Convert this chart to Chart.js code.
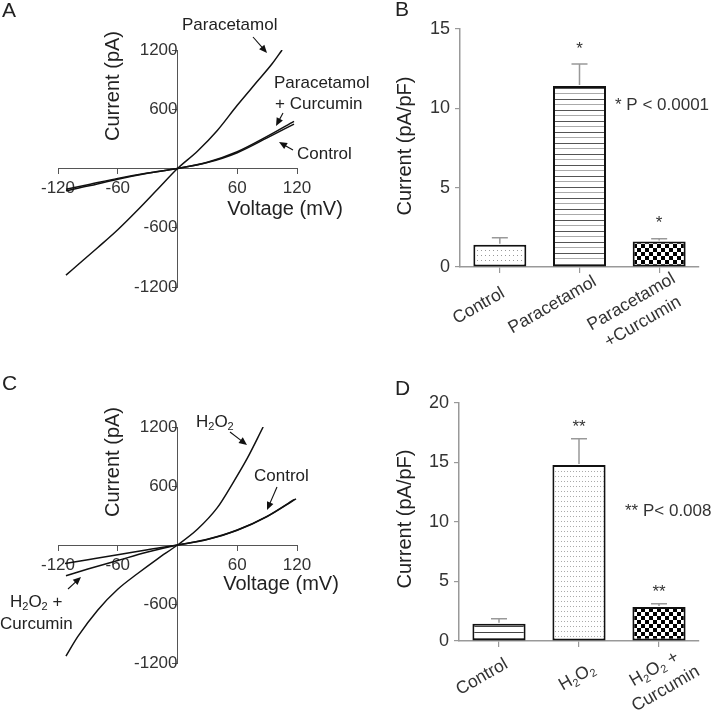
<!DOCTYPE html>
<html><head><meta charset="utf-8">
<script src="https://cdn.jsdelivr.net/npm/chart.js@4.4.1/dist/chart.umd.min.js"></script>
<style>
html,body{margin:0;padding:0;background:#fff;}
#wrap{position:relative;width:714px;height:712px;overflow:hidden;}
canvas{position:absolute;}
</style></head><body>
<div id="wrap">
<canvas id="cA" width="390" height="356" style="left:0;top:0"></canvas>
<canvas id="cC" width="357" height="356" style="left:0;top:356px"></canvas>
<canvas id="cB" width="357" height="356" style="left:357px;top:0"></canvas>
<canvas id="cD" width="357" height="356" style="left:357px;top:356px"></canvas>
</div>
<script>
// ---------- DATA ----------
// Panel A: I-V curves (voltage in mV, current in pA)
const voltageA_paracetamol = [-112,-100,-80,-60,-40,-20,0,20,40,60,80,95,105];
const currentA_paracetamol = [-1080,-975,-800,-620,-420,-210,0,175,385,640,880,1060,1200];
const voltageA_control = [-112,-90,-60,-30,0,30,60,90,117];
const currentA_control = [-210,-165,-100,-45,0,60,160,310,450];
const voltageA_curcumin = [-112,-90,-60,-30,0,30,60,90,117];
const currentA_curcumin = [-225,-178,-108,-48,0,64,170,325,478];
// Panel C: I-V curves
const voltageC_h2o2 = [-112,-100,-80,-60,-40,-20,0,20,40,55,70,86];
const currentC_h2o2 = [-1130,-930,-660,-450,-290,-140,0,160,380,620,880,1200];
const voltageC_control = [-113,-90,-60,-30,0,30,60,90,119];
const currentC_control = [-188,-150,-100,-48,0,55,150,290,470];
const voltageC_curcumin = [-112,-90,-60,-30,0,30,60,90,117];
const currentC_curcumin = [-313,-245,-158,-72,0,58,152,292,462];
// Panel B: bars (pA/pF)
const categoriesB = ['Control','Paracetamol',['Paracetamol','+Curcumin']];
const meansB = [1.4, 11.4, 1.6];
const semB = [0.45, 1.4, 0.18];
const starsB = ['', '*', '*'];
// Panel D: bars (pA/pF)
const categoriesD = ['Control','H\u2082O\u2082',['H\u2082O\u2082 +','Curcumin']];
const meansD = [1.45, 14.8, 2.85];
const semD = [0.42, 2.2, 0.28];
const starsD = ['', '**', '**'];
// tick labels
const ivVoltageTicks = [-120,-60,60,120];
const ivCurrentTicks = [-1200,-600,600,1200];

const FAM = "'Liberation Sans', Arial, Helvetica, sans-serif";

// ---------- text helpers ----------
function segs(s){
  const out=[];
  for (const ch of s){
    const c = ch.charCodeAt(0), sub = c>=0x2080 && c<=0x2089;
    const t = sub ? String(c-0x2080) : ch;
    if (out.length && out[out.length-1][1]===sub) out[out.length-1][0]+=t; else out.push([t,sub]);
  }
  return out;
}
function fontFor(size, sub){ return (sub ? Math.round(size*0.65) : size)+'px '+FAM; }
function richWidth(ctx, parts, size){
  let w=0; for (const [t,sub] of parts){ ctx.font=fontFor(size,sub); w+=ctx.measureText(t).width; } return w;
}
function txt(ctx, s, x, y, o={}) {
  const {size=17, align='left', rot=0, color='#222'} = o;
  const parts = segs(s);
  ctx.save(); ctx.translate(x,y); ctx.rotate(rot);
  ctx.fillStyle=color; ctx.textAlign='left'; ctx.textBaseline='middle';
  const w = richWidth(ctx, parts, size);
  let cx = align==='center' ? -w/2 : (align==='right' ? -w : 0);
  for (const [t,sub] of parts){
    ctx.font=fontFor(size,sub);
    ctx.fillText(t, cx, sub ? size*0.3 : 0);
    cx += ctx.measureText(t).width;
  }
  ctx.restore();
}
function arrow(ctx,x1,y1,x2,y2){
  const a = Math.atan2(y2-y1,x2-x1), L=8, W=3.5;
  ctx.save(); ctx.strokeStyle='#111'; ctx.fillStyle='#111'; ctx.lineWidth=1.1;
  ctx.beginPath(); ctx.moveTo(x1,y1); ctx.lineTo(x2-Math.cos(a)*L*0.8,y2-Math.sin(a)*L*0.8); ctx.stroke();
  ctx.beginPath(); ctx.moveTo(x2,y2);
  ctx.lineTo(x2-Math.cos(a)*L+Math.sin(a)*W, y2-Math.sin(a)*L-Math.cos(a)*W);
  ctx.lineTo(x2-Math.cos(a)*L-Math.sin(a)*W, y2-Math.sin(a)*L+Math.cos(a)*W);
  ctx.closePath(); ctx.fill(); ctx.restore();
}
function pts(xs, ys){ return xs.map((x,i)=>({x, y: ys[i]})); }

// ---------- I-V chart options ----------
function ivOptions(padTop, padBottom, padRight){
  const tickCol = c => (c.tick && c.tick.value === 0) ? 'rgba(0,0,0,0)' : '#555';
  return {
    responsive:false, animation:false, events:[],
    layout:{padding:{left:58,right:padRight,top:padTop,bottom:padBottom}},
    plugins:{legend:{display:false},tooltip:{enabled:false}},
    elements:{point:{radius:0}, line:{borderWidth:1.5, borderColor:'#111', cubicInterpolationMode:'monotone', fill:false}},
    scales:{
      x:{type:'linear', min:-120, max:120, position:{y:0},
        afterBuildTicks: s => { s.ticks = [-120,-60,0,60,120].map(v=>({value:v})); },
        ticks:{font:{family:FAM,size:17}, color:'#333', padding:5, maxRotation:0, autoSkip:false,
          callback: v => ivVoltageTicks.includes(v) ? String(v) : ''},
        grid:{drawOnChartArea:false, drawTicks:true, tickLength:5, tickColor:tickCol, tickWidth:1},
        border:{display:true, color:'#555', width:1}},
      y:{type:'linear', min:-1200, max:1200, position:{x:0},
        afterBuildTicks: s => { s.ticks = [-1200,-600,0,600,1200].map(v=>({value:v})); },
        ticks:{font:{family:FAM,size:17}, color:'#333', padding:3, autoSkip:false,
          callback: v => ivCurrentTicks.includes(v) ? String(v) : ''},
        grid:{drawOnChartArea:false, drawTicks:true, tickLength:5, tickColor:tickCol, tickWidth:1},
        border:{display:true, color:'#555', width:1}}
    }
  };
}

// ---------- Panel A ----------
new Chart(document.getElementById('cA'), {
  type:'line',
  data:{datasets:[
    {data:pts(voltageA_paracetamol,currentA_paracetamol)},
    {data:pts(voltageA_control,currentA_control)},
    {data:pts(voltageA_curcumin,currentA_curcumin)}
  ]},
  options: ivOptions(50, 69, 93),
  plugins:[{id:'annA', afterDraw(chart){
    const ctx = chart.ctx;
    txt(ctx,'A',2,11,{size:21});
    txt(ctx,'Current (pA)',113,86,{size:20,align:'center',rot:-Math.PI/2});
    txt(ctx,'Voltage (mV)',285,209,{size:20,align:'center'});
    txt(ctx,'Paracetamol',182,25,{size:17});
    arrow(ctx,253,37,267,53);
    txt(ctx,'Paracetamol',274,83,{size:17});
    txt(ctx,'+ Curcumin',275,104,{size:17});
    arrow(ctx,283,113,276,126);
    txt(ctx,'Control',297,154,{size:17});
    arrow(ctx,293,150,279,142);
  }}]
});

// ---------- Panel C ----------
new Chart(document.getElementById('cC'), {
  type:'line',
  data:{datasets:[
    {data:pts(voltageC_h2o2,currentC_h2o2)},
    {data:pts(voltageC_control,currentC_control)},
    {data:pts(voltageC_curcumin,currentC_curcumin)}
  ]},
  options: ivOptions(71, 49, 60),
  plugins:[{id:'annC', afterDraw(chart){
    const ctx = chart.ctx;
    txt(ctx,'C',2,28,{size:21});
    txt(ctx,'Current (pA)',113,106,{size:20,align:'center',rot:-Math.PI/2});
    txt(ctx,'Voltage (mV)',281,228,{size:20,align:'center'});
    txt(ctx,'H\u2082O\u2082',196,66,{size:17});
    arrow(ctx,230,76,247,89);
    txt(ctx,'Control',254,120,{size:17});
    arrow(ctx,277,131,267,154);
    txt(ctx,'H\u2082O\u2082 +',10,246,{size:17});
    txt(ctx,'Curcumin',0,268,{size:17});
    arrow(ctx,68,233,81,221);
  }}]
});

// ---------- patterns ----------
function makePattern(w,h,draw){
  const c = document.createElement('canvas'); c.width=w; c.height=h;
  const g = c.getContext('2d'); g.fillStyle='#fff'; g.fillRect(0,0,w,h); draw(g);
  return g.createPattern(c,'repeat');
}
const patDotsB = makePattern(4,5,g=>{g.fillStyle='#999'; g.fillRect(0,0,1,1);});
const patLinesB = makePattern(4,11,g=>{g.fillStyle='#555'; g.fillRect(0,0,4,1); g.fillStyle='#aaa'; g.fillRect(0,5,4,1);});
const patChecker = makePattern(8,8,g=>{g.fillStyle='#000'; g.fillRect(0,0,4,4); g.fillRect(4,4,4,4);});
const patLinesD = makePattern(4,6,g=>{g.fillStyle='#444'; g.fillRect(0,0,4,1);});
const patDotsD = makePattern(3,5,g=>{g.fillStyle='#aaa'; g.fillRect(0,0,1,1);});

// ---------- bar chart options ----------
function barOptions(max, padTop, xH, yW){
  return {
    responsive:false, animation:false, events:[],
    layout:{padding:{left:0,right:15,top:padTop,bottom:0}},
    plugins:{legend:{display:false},tooltip:{enabled:false}},
    scales:{
      x:{type:'category', offset:true,
        grid:{display:true, drawOnChartArea:false, drawTicks:true, tickLength:6, offset:false, color:'#999', lineWidth:1.2},
        border:{display:true, color:'#999', width:1.5},
        ticks:{display:false, autoSkip:false},
        afterFit: s => { s.height = xH; }},
      y:{type:'linear', min:0, max:max,
        ticks:{stepSize:5, font:{family:FAM,size:18}, color:'#333', padding:5},
        grid:{drawOnChartArea:false, drawTicks:true, tickLength:5, color:'#999', lineWidth:1.2},
        border:{display:true, color:'#999', width:1.5},
        afterFit: s => { s.width = yW; }}
    }
  };
}
// category labels are drawn rotated (30 deg), centred below each tick
function barAnnot(cats, means, sems, stars, starGap, letter, letterY, titleY, pText, pX, pY, labelOffsets){
  return {id:'ann'+letter, afterDatasetsDraw(chart){
    const ctx = chart.ctx, ys = chart.scales.y, xs = chart.scales.x;
    const meta = chart.getDatasetMeta(0);
    ctx.save(); ctx.strokeStyle='#999'; ctx.lineWidth=1.5;
    meta.data.forEach((bar,i)=>{
      const top = ys.getPixelForValue(means[i]+sems[i]);
      ctx.beginPath(); ctx.moveTo(bar.x, bar.y-1); ctx.lineTo(bar.x, top);
      ctx.moveTo(bar.x-8, top); ctx.lineTo(bar.x+8, top); ctx.stroke();
      if (stars[i]) txt(ctx, stars[i], bar.x, top-starGap, {size:17, align:'center', color:'#333'});
    });
    ctx.restore();
    const th = 30*Math.PI/180, lh = 23;
    cats.forEach((lab,i)=>{
      const lines = Array.isArray(lab) ? lab : [lab];
      const cx = xs.getPixelForValue(i) + labelOffsets[i][0];
      const cy = xs.top + labelOffsets[i][1];
      lines.forEach((ln,j)=>{
        const k = j - (lines.length-1)/2;
        txt(ctx, ln, cx + Math.sin(th)*k*lh, cy + Math.cos(th)*k*lh, {size:17.5, align:'center', rot:-th, color:'#333'});
      });
    });
    txt(ctx, letter, 38, letterY, {size:21});
    txt(ctx, 'Current (pA/pF)', 48, titleY, {size:20, align:'center', rot:-Math.PI/2});
    txt(ctx, pText, pX, pY, {size:17, color:'#333'});
  }};
}

// ---------- Panel B ----------
new Chart(document.getElementById('cB'), {
  type:'bar',
  data:{labels:categoriesB, datasets:[{data:meansB, backgroundColor:[patDotsB,patLinesB,patChecker],
    borderColor:'#111', borderWidth:2, borderSkipped:false, barPercentage:0.665, categoryPercentage:1}]},
  options: barOptions(15, 29, 89, 103),
  plugins:[barAnnot(categoriesB, meansB, semB, starsB, 15, 'B', 10, 146, '* P < 0.0001', 258, 105,
    [[-21,39],[-27,38],[-22,45]])]
});

// ---------- Panel D ----------
new Chart(document.getElementById('cD'), {
  type:'bar',
  data:{labels:categoriesD, datasets:[{data:meansD, backgroundColor:[patLinesD,patDotsD,patChecker],
    borderColor:'#111', borderWidth:2, borderSkipped:false, barPercentage:0.665, categoryPercentage:1}]},
  options: barOptions(20, 47, 71, 102),
  plugins:[barAnnot(categoriesD, meansD, semD, starsD, 11, 'D', 33, 163, '** P< 0.008', 268, 155,
    [[-17,36],[-2,36],[1,38]])]
});
</script>
</body></html>
